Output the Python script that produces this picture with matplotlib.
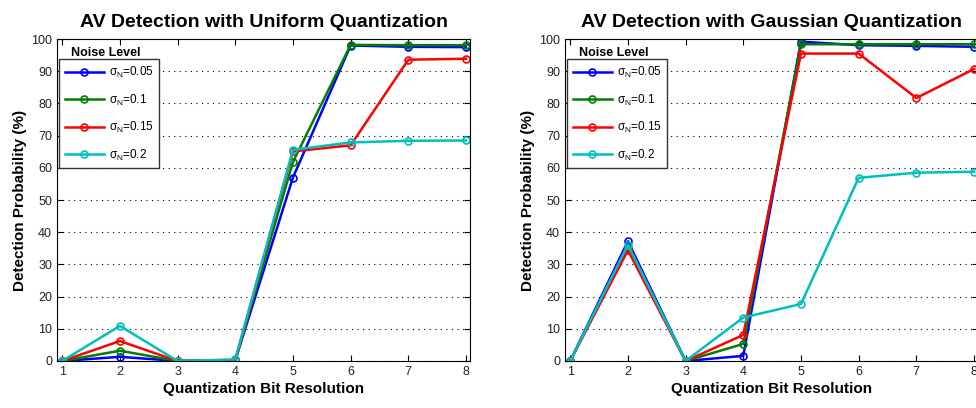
import matplotlib
matplotlib.use("Agg")
import matplotlib.pyplot as plt

# ---- data ----
bits = [1, 2, 3, 4, 5, 6, 7, 8]
noise_labels = [r"$\sigma_N$=0.05", r"$\sigma_N$=0.1", r"$\sigma_N$=0.15", r"$\sigma_N$=0.2"]
colors = ["#0000ff", "#008000", "#ff0000", "#00bfbf"]

uniform_005 = [0, 1.3, 0, 0.2, 57.0, 98.0, 97.6, 97.5]
uniform_010 = [0, 3.2, 0, 0.2, 61.8, 98.2, 98.1, 98.1]
uniform_015 = [0, 6.2, 0, 0.2, 65.1, 67.0, 93.6, 93.9]
uniform_020 = [0, 10.9, 0, 0.5, 65.6, 67.9, 68.4, 68.5]

gauss_005 = [0, 37.2, 0, 1.6, 99.2, 98.1, 97.9, 97.6]
gauss_010 = [0, 35.2, 0, 5.3, 98.4, 98.4, 98.4, 98.4]
gauss_015 = [0, 34.4, 0, 8.1, 95.5, 95.5, 81.7, 90.7]
gauss_020 = [0, 36.1, 0, 13.5, 17.7, 56.9, 58.5, 58.8]

titles = ["AV Detection with Uniform Quantization",
          "AV Detection with Gaussian Quantization"]
yticks = [0, 10, 20, 30, 40, 50, 60, 70, 80, 90, 100]

plt.rcParams["font.family"] = ["Liberation Sans", "DejaVu Sans"]
plt.rcParams["mathtext.fontset"] = "custom"
plt.rcParams["mathtext.rm"] = "Liberation Sans"
plt.rcParams["mathtext.it"] = "Liberation Sans"


def panel(ax, series, titre):
    for y, c, lab in zip(series, colors, noise_labels):
        ax.plot(bits, y, color=c, lw=1.8, marker="o", ms=5,
                mfc="none", mew=1.2, label=lab)
    ax.set_xlim(0.91, 8.07)
    ax.set_ylim(0, 100)
    ax.set_xticks(bits)
    ax.set_yticks(yticks)
    ax.tick_params(direction="in", top=True, right=True, labelsize=9,
                   labelcolor="#222222", length=4)
    ax.yaxis.grid(True, linestyle=(0, (1, 4)), color="black", lw=0.8)
    ax.set_axisbelow(True)
    ax.set_title(titre, fontsize=14, fontweight="bold", pad=9)
    ax.set_xlabel("Quantization Bit Resolution", fontsize=11, fontweight="bold", labelpad=3)
    ax.set_ylabel("Detection Probability (%)", fontsize=11, fontweight="bold", labelpad=3)
    leg = ax.legend(loc="upper left", bbox_to_anchor=(0.005, 0.938), fontsize=8.5,
                    fancybox=False, edgecolor="#333333", framealpha=1,
                    handlelength=3.3, borderpad=0.5, labelspacing=1.05,
                    handletextpad=0.4, borderaxespad=0)
    leg.get_frame().set_linewidth(1.0)
    ax.text(0.035, 0.958, "Noise Level", transform=ax.transAxes, fontsize=9,
            fontweight="bold", ha="left", va="center")


fig = plt.figure(figsize=(9.76, 4.08), dpi=100)
ax1 = fig.add_axes([0.0584, 0.1152, 0.4232, 0.789])
ax2 = fig.add_axes([0.5789, 0.1152, 0.4232, 0.789])

panel(ax1, [uniform_005, uniform_010, uniform_015, uniform_020], titles[0])
panel(ax2, [gauss_005, gauss_010, gauss_015, gauss_020], titles[1])

fig.savefig("out.png", dpi=100)
